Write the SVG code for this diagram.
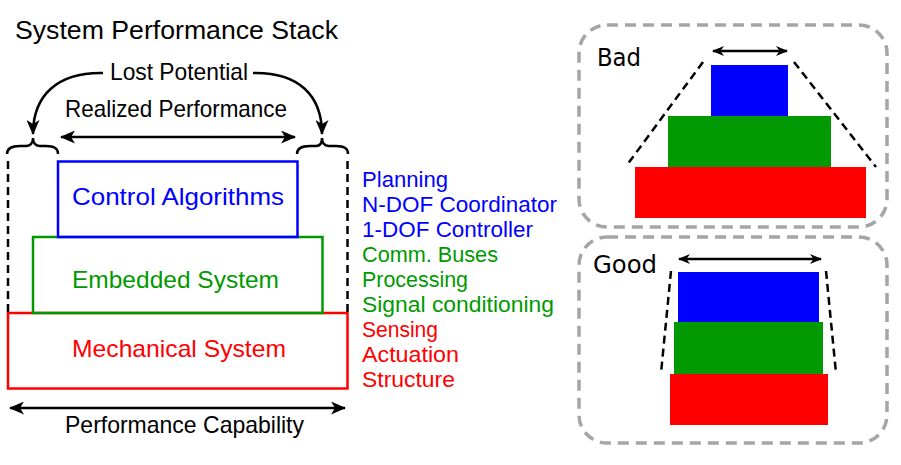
<svg xmlns="http://www.w3.org/2000/svg" width="901" height="465" viewBox="0 0 901 465">
<style>
  .t { font-family: "Liberation Sans", Arial, sans-serif; }
  .d { font-family: "DejaVu Sans", Verdana, sans-serif; font-size: 24px; fill: #000; }
  .big { font-size: 24px; }
  .lst { font-size: 22px; }
  .blue { fill: #0000ff; }
  .green { fill: #009a00; }
  .red { fill: #ff0000; }
  .blk { fill: #000; }
  .conn { fill: none; stroke: #000; stroke-width: 2.5; }
  .dash { fill: none; stroke: #000; stroke-width: 2.5; stroke-dasharray: 8 5; }
  .gbox { fill: none; stroke: #a5a5a5; stroke-width: 3.5; stroke-dasharray: 11 7; }
</style>
<defs>
  <marker id="ah" markerUnits="userSpaceOnUse" viewBox="0 0 15 13" refX="14" refY="6.5" markerWidth="15" markerHeight="13" orient="auto-start-reverse">
    <path d="M0,0 L15,6.5 L0,13 L4,6.5 Z" fill="#000"/>
  </marker>
  <marker id="ahs" markerUnits="userSpaceOnUse" viewBox="0 0 12 10" refX="11" refY="5" markerWidth="12" markerHeight="10" orient="auto-start-reverse">
    <path d="M0,0 L12,5 L0,10 L3.5,5 Z" fill="#000"/>
  </marker>
</defs>
<rect width="901" height="465" fill="#fff"/>

<g id="title">
  <text class="t blk" x="15" y="39" font-size="26.5" textLength="323" lengthAdjust="spacingAndGlyphs">System Performance Stack</text>
</g>

<g id="lost-potential">
  <text class="t big blk" x="110" y="80" textLength="138" lengthAdjust="spacingAndGlyphs">Lost Potential</text>
</g>
<g id="realized-performance">
  <text class="t big blk" x="65" y="117" textLength="222" lengthAdjust="spacingAndGlyphs">Realized Performance</text>
</g>

<g id="mechanical-system">
  <rect x="8" y="313" width="339.5" height="75.5" fill="none" stroke="#ff0000" stroke-width="2.5"/>
  <text class="t big red" x="72" y="357" textLength="214" lengthAdjust="spacingAndGlyphs">Mechanical System</text>
</g>
<g id="embedded-system">
  <rect x="33" y="237" width="289.5" height="76" fill="none" stroke="#009a00" stroke-width="2.5"/>
  <text class="t big green" x="72" y="288" textLength="207" lengthAdjust="spacingAndGlyphs">Embedded System</text>
</g>
<g id="control-algorithms">
  <rect x="58" y="161.5" width="239.5" height="75.5" fill="none" stroke="#0000ff" stroke-width="2.5"/>
  <text class="t big blue" x="72" y="205" textLength="212" lengthAdjust="spacingAndGlyphs">Control Algorithms</text>
</g>

<g id="layer-list">
  <text class="t lst blue" x="362" y="187" textLength="86" lengthAdjust="spacingAndGlyphs">Planning</text>
  <text class="t lst blue" x="362" y="212" textLength="195" lengthAdjust="spacingAndGlyphs">N-DOF Coordinator</text>
  <text class="t lst blue" x="362" y="237" textLength="171" lengthAdjust="spacingAndGlyphs">1-DOF Controller</text>
  <text class="t lst green" x="362" y="262" textLength="136" lengthAdjust="spacingAndGlyphs">Comm. Buses</text>
  <text class="t lst green" x="362" y="287" textLength="106" lengthAdjust="spacingAndGlyphs">Processing</text>
  <text class="t lst green" x="362" y="312" textLength="192" lengthAdjust="spacingAndGlyphs">Signal conditioning</text>
  <text class="t lst red" x="362" y="337" textLength="76" lengthAdjust="spacingAndGlyphs">Sensing</text>
  <text class="t lst red" x="362" y="362" textLength="97" lengthAdjust="spacingAndGlyphs">Actuation</text>
  <text class="t lst red" x="362" y="387" textLength="93" lengthAdjust="spacingAndGlyphs">Structure</text>
</g>

<g id="performance-capability">
  <text class="t big blk" x="65" y="433" textLength="239" lengthAdjust="spacingAndGlyphs">Performance Capability</text>
</g>

<g id="bad-example">
  <rect x="579" y="25" width="308" height="202" rx="28" ry="28" class="gbox"/>
  <text class="d" x="597" y="66" textLength="44" lengthAdjust="spacingAndGlyphs">Bad</text>
  <rect x="635" y="167" width="231" height="51" fill="#ff0000"/>
  <rect x="668" y="116" width="163" height="51" fill="#039903"/>
  <rect x="711" y="65" width="77" height="51" fill="#0000ff"/>
</g>

<g id="good-example">
  <rect x="579" y="237" width="308" height="206" rx="28" ry="28" class="gbox"/>
  <text class="d" x="593" y="273" textLength="64" lengthAdjust="spacingAndGlyphs">Good</text>
  <rect x="670" y="374" width="158" height="51" fill="#ff0000"/>
  <rect x="674" y="322" width="149" height="52" fill="#039903"/>
  <rect x="678" y="272" width="141" height="50" fill="#0000ff"/>
</g>

<g id="connectors">
  <path class="conn" d="M103,73 C58,72 33,95 33,134" marker-end="url(#ah)"/>
  <path class="conn" d="M253,73 C298,72 322,95 322,134" marker-end="url(#ah)"/>
  <line class="conn" x1="61" y1="137" x2="295" y2="137" marker-start="url(#ah)" marker-end="url(#ah)"/>
  <path class="conn" d="M7,154 C7,148 12,146 20,146 L26,146 C31,146 33,142 33,138 C33,142 35,146 40,146 L46,146 C54,146 58,148 58,154"/>
  <path class="conn" d="M297,154 C297,148 302,146 310,146 L316,146 C321,146 322,142 322,138 C322,142 324,146 329,146 L336,146 C344,146 348,148 348,154"/>
  <line class="dash" x1="8" y1="161" x2="8" y2="313"/>
  <line class="dash" x1="347.5" y1="161" x2="347.5" y2="313"/>
  <line class="conn" x1="10" y1="408" x2="345" y2="408" marker-start="url(#ah)" marker-end="url(#ah)"/>
  <line class="conn" x1="713" y1="51" x2="787" y2="51" stroke-width="2" marker-start="url(#ahs)" marker-end="url(#ahs)"/>
  <line class="dash" x1="703" y1="62" x2="627" y2="165"/>
  <line class="dash" x1="794" y1="62" x2="876" y2="167"/>
  <line class="conn" x1="679" y1="259" x2="821" y2="259" stroke-width="2" marker-start="url(#ahs)" marker-end="url(#ahs)"/>
  <line class="dash" x1="671" y1="271" x2="661" y2="373"/>
  <line class="dash" x1="826" y1="271" x2="836" y2="373"/>
</g>
</svg>
